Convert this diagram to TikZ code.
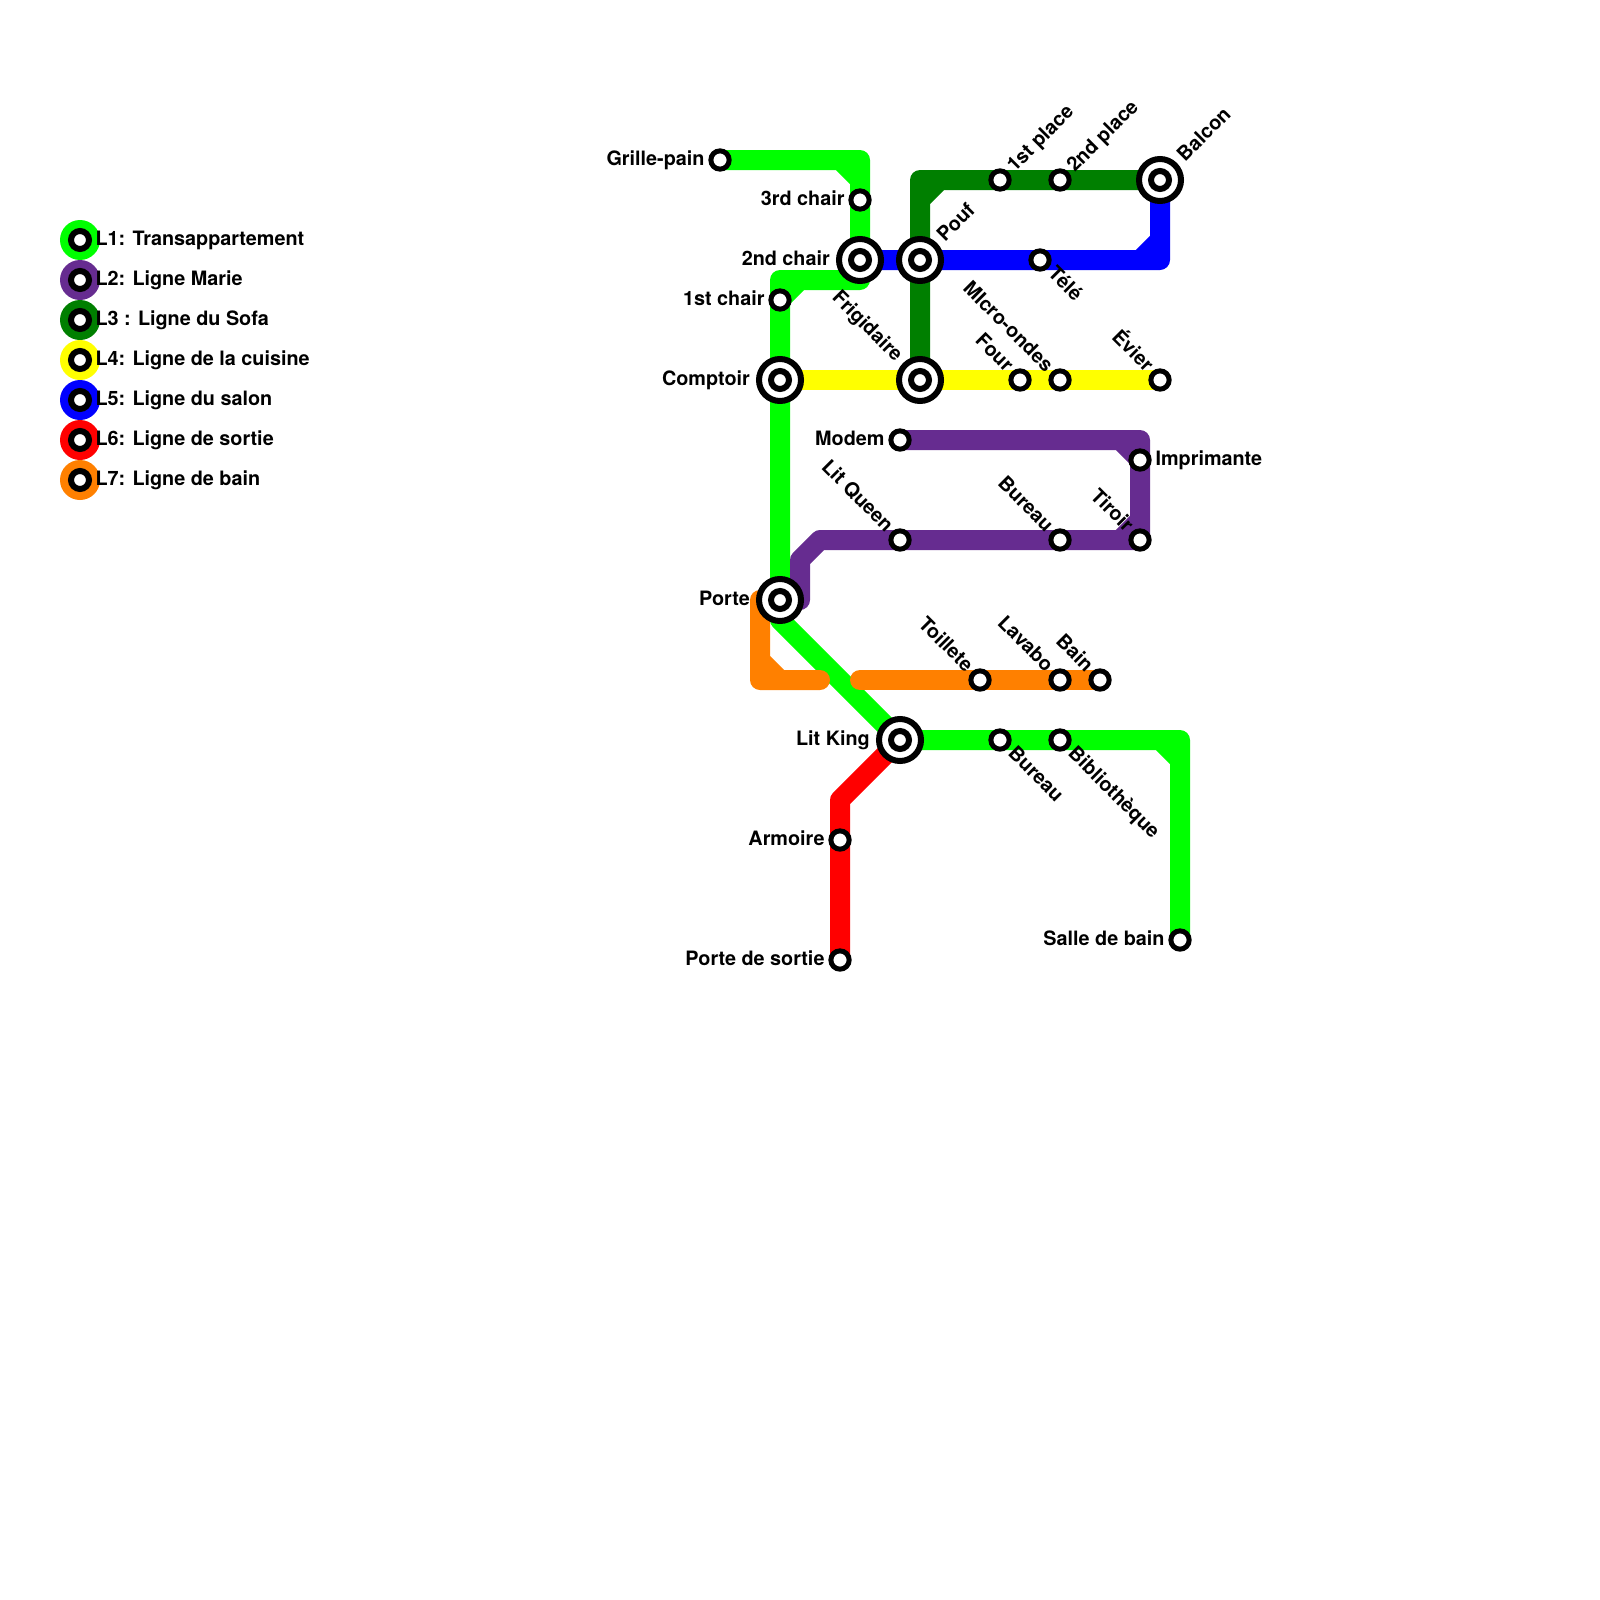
\documentclass[tikz,border=0pt]{standalone}
\usepackage{fontspec}
\setmainfont{TeX Gyre Heros}
\usetikzlibrary{backgrounds}
\definecolor{lineOne}{HTML}{00FF00}
\definecolor{lineTwo}{HTML}{662C90}
\definecolor{lineThree}{HTML}{007F00}
\definecolor{lineFour}{HTML}{FFFF00}
\definecolor{lineFive}{HTML}{0000FF}
\definecolor{lineSix}{HTML}{FF0000}
\definecolor{lineSeven}{HTML}{FF8000}
\tikzset{
  metro/.style={line width=20pt,line cap=round,line join=round},
  stop/.style={circle,draw=black,fill=white,line width=5pt,minimum size=18.3pt,inner sep=0pt},
  hubstop/.style={circle,draw=black,fill=white,line width=6pt,minimum size=18pt,inner sep=0pt},
  hubring/.style={circle,draw=black,fill=white,line width=6pt,minimum size=42pt,inner sep=0pt},
  keydisc/.style={circle,fill=#1,minimum size=40pt,inner sep=0pt},
  txt/.style={font=\bfseries\fontsize{19.8}{24}\selectfont,inner sep=0pt,text=black},
  onleft/.style={txt,anchor=base east,xshift=-#1pt,yshift=-5.4pt},
  onright/.style={txt,anchor=base west,xshift=#1pt,yshift=-5.4pt},
  upleft/.style={txt,rotate=-45,anchor=base east,xshift=-#1pt,yshift=-5.4pt},
  upright/.style={txt,rotate=45,anchor=base west,xshift=#1pt,yshift=-5.4pt},
  downright/.style={txt,rotate=-45,anchor=base west,xshift=#1pt,yshift=-5.4pt},
}
\begin{document}
\begin{tikzpicture}[x=1pt,y=-1pt]
\useasboundingbox (0,0) rectangle (1600,1600);
% stations
\foreach \st/\x/\y in {grillepain/720/160,chairthree/860/200,chairone/780/300,four/1020/380,
  microondes/1060/380,evier/1160/380,placeone/1000/180,placetwo/1060/180,tele/1040/260,
  modem/900/440,imprimante/1140/460,litqueen/900/540,bureau/1060/540,tiroir/1140/540,
  toillete/980/680,lavabo/1060/680,bain/1100/680,bureaubis/1000/740,biblio/1060/740,
  armoire/840/840,portesortie/840/960,salledebain/1180/940} {
  \node[stop] (\st) at (\x,\y) {};
}
\foreach \st/\x/\y in {chairtwo/860/260,pouf/920/260,comptoir/780/380,frigidaire/920/380,
  balcon/1160/180,porte/780/600,litking/900/740} {
  \node[hubring] (\st) at (\x,\y) {};
  \node[hubstop] (\st-in) at (\x,\y) {};
}
% bends
\foreach \bd/\x/\y in {oneA/860/160,oneB/860/280,oneC/780/280,oneD/780/620,oneE/1180/740,
  twoA/800/600,twoB/800/560,twoC/820/540,twoD/1140/440,threeA/920/180,fiveA/1160/260,
  sixA/840/800,sevenA/760/600,sevenB/760/680,sevenC/820/680,sevenD/860/680} {
  \coordinate (\bd) at (\x,\y);
}
% lines
\begin{scope}[on background layer]
\draw[metro,lineOne] (grillepain.center) -- (oneA) -- (oneB) -- (oneC) -- (oneD) -- (litking.center) -- (oneE) -- (salledebain.center)
  (oneA) +(-20,0) -- +(0,20)
  (oneC) +(20,0) -- +(0,20)
  (oneE) +(-20,0) -- +(0,20);
\draw[metro,lineTwo] (twoA) -- (twoB) -- (twoC) -- (tiroir.center) -- (twoD) -- (modem.center)
  (tiroir.center) +(-20,0) -- +(0,-20)
  (twoD) +(-20,0) -- +(0,20);
\draw[metro,lineThree] (frigidaire.center) -- (threeA) -- (balcon.center)
  (threeA) +(20,0) -- +(0,20);
\draw[metro,lineFour] (comptoir.center) -- (evier.center);
\draw[metro,lineFive] (chairtwo.center) -- (fiveA) -- (balcon.center)
  (fiveA) +(-20,0) -- +(0,-20);
\draw[metro,lineSix] (litking.center) -- (sixA) -- (portesortie.center);
\draw[metro,lineSeven] (sevenA) -- (sevenB) -- (sevenC)
  (sevenB) +(0,-20) -- +(20,0);
\draw[metro,lineSeven] (sevenD) -- (bain.center);
\end{scope}
% labels
\foreach \st/\lab in {grillepain/Grille-pain,chairthree/3rd chair,chairone/1st chair,modem/Modem,
  armoire/Armoire,portesortie/Porte de sortie,salledebain/Salle de bain} {
  \node[onleft=15.3] (\st-lab) at (\st) {\lab};
}
\foreach \st/\lab in {chairtwo/2nd chair,comptoir/Comptoir,porte/Porte,litking/Lit King} {
  \node[onleft=30] (\st-lab) at (\st) {\lab};
}
\node[onright=15.3] (imprimante-lab) at (imprimante) {Imprimante};
\foreach \st/\lab in {four/Four,microondes/MIcro-ondes,evier/Évier,litqueen/Lit Queen,bureau/Bureau,
  tiroir/Tiroir,toillete/Toillete,lavabo/Lavabo,bain/Bain} {
  \node[upleft=15.3] (\st-lab) at (\st) {\lab};
}
\node[upleft=30] (frigidaire-lab) at (frigidaire) {Frigidaire};
\foreach \st/\lab in {placeone/1st place,placetwo/2nd place} {
  \node[upright=15.3] (\st-lab) at (\st) {\lab};
}
\foreach \st/\lab in {pouf/Pouf,balcon/Balcon} {
  \node[upright=30] (\st-lab) at (\st) {\lab};
}
\foreach \st/\lab in {tele/Télé,bureaubis/Bureau,biblio/Bibliothèque} {
  \node[downright=15.3] (\st-lab) at (\st) {\lab};
}
% legend
\foreach \col/\y/\lab in {lineOne/240/L1: Transappartement,lineTwo/280/L2: Ligne Marie,
  lineThree/320/L3 : Ligne du Sofa,lineFour/360/L4: Ligne de la cuisine,lineFive/400/L5: Ligne du salon,
  lineSix/440/L6: Ligne de sortie,lineSeven/480/L7: Ligne de bain} {
  \node[keydisc=\col] (\col-disc) at (80,\y) {};
  \node[hubstop] (\col-stop) at (80,\y) {};
  \node[onright=15.3] (\col-lab) at (80,\y) {\lab};
}
\end{tikzpicture}
\end{document}
